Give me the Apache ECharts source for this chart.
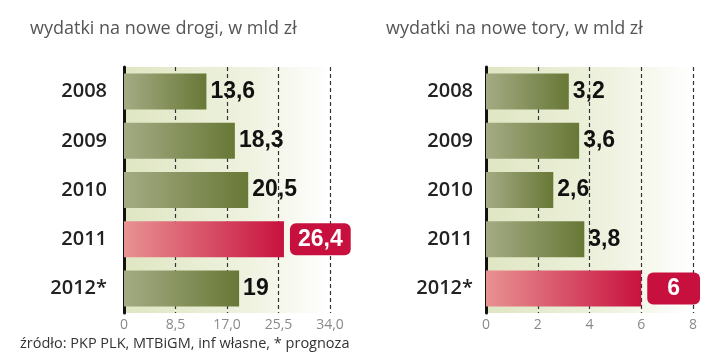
<!DOCTYPE html>
<html>
<head>
<meta charset="utf-8">
<script src="https://cdn.jsdelivr.net/npm/echarts@6/dist/echarts.min.js"></script>
<style>
html,body{margin:0;padding:0;background:#fff;}
#c{width:720px;height:357px;}
</style>
</head>
<body>
<div id="c"></div>
<script>
// ---- data ----
var years = ['2008', '2009', '2010', '2011', '2012*'];
var roadValues = [13.6, 18.3, 20.5, 26.4, 19];
var trackValues = [3.2, 3.6, 2.6, 3.8, 6];
var roadHighlight = '2011';
var trackHighlight = '2012*';
var roadTicks = ['0', '8,5', '17,0', '25,5', '34,0'];
var trackTicks = ['0', '2', '4', '6', '8'];
var roadTitle = 'wydatki na nowe drogi, w mld zł';
var trackTitle = 'wydatki na nowe tory, w mld zł';
var sourceText = 'źródło: PKP PLK, MTBiGM, inf własne, * prognoza';

// ---- styles ----
var greenGrad = {type:'linear', x:0, y:0, x2:1, y2:0, colorStops:[
  {offset:0, color:'#a4ab84'}, {offset:1, color:'#687836'}]};
var redGrad = {type:'linear', x:0, y:0, x2:1, y2:0, colorStops:[
  {offset:0, color:'#e89292'}, {offset:1, color:'#c8123f'}]};
var bgGrad = {type:'linear', x:0, y:0, x2:1, y2:0, colorStops:[
  {offset:0, color:'#dfe6c2'}, {offset:0.6, color:'#eef2df'}, {offset:1, color:'#ffffff'}]};
var valueFont = "'Liberation Sans', Arial, sans-serif";
var textFont = "'Open Sans', sans-serif";

function fmt(v){ return String(v).replace('.', ','); }

function buildData(values, highlight, padH){
  return values.map(function(v, i){
    var hl = years[i] === highlight;
    return {
      value: v,
      itemStyle: {color: hl ? redGrad : greenGrad},
      label: hl ? {
        color:'#fff', backgroundColor:'#c8103f', borderRadius:6,
        padding:[5, padH, 4, padH], distance:6
      } : {}
    };
  });
}

function xAxisFor(gi, max, interval, ticks){
  return {
    gridIndex: gi, type:'value', min:0, max:max, interval:interval,
    axisLine:{show:false}, axisTick:{show:false},
    axisLabel:{
      color:'#8a8a8a', fontSize:14, fontFamily:textFont, margin:5,
      formatter:function(v){ return ticks[Math.round(v/interval)] || ''; }
    },
    splitLine:{show:true, lineStyle:{color:'#333', width:1.2, type:[4,3]}}
  };
}
function yAxisFor(gi, margin){
  return {
    gridIndex: gi, type:'category', data: years, inverse:true,
    axisLine:{show:true, lineStyle:{color:'#111', width:3}},
    axisTick:{show:false},
    axisLabel:{color:'#222', fontSize:20, fontWeight:600, fontFamily:textFont, margin:margin}
  };
}
function seriesFor(gi, values, highlight, padH){
  return {
    type:'bar', xAxisIndex:gi, yAxisIndex:gi, barWidth:36,
    data: buildData(values, highlight, padH),
    label:{show:true, position:'right', distance:4, color:'#111',
      fontSize:23, fontWeight:'bold', fontFamily:valueFont,
      formatter:function(p){ return fmt(p.value); }},
    silent:true, animation:false
  };
}

var chart = echarts.init(document.getElementById('c'), null, {renderer:'canvas'});
chart.setOption({
  animation:false,
  backgroundColor:'#fff',
  title:[
    {text:roadTitle, left:25, top:15, textStyle:{color:'#555', fontSize:18, fontWeight:'normal', fontFamily:textFont}},
    {text:trackTitle, left:381, top:15, textStyle:{color:'#555', fontSize:18, fontWeight:'normal', fontFamily:textFont}},
    {text:sourceText, left:15, top:331, textStyle:{color:'#333', fontSize:14.5, fontWeight:'normal', fontFamily:textFont}}
  ],
  grid:[
    {left:124, top:67, width:206, height:246, show:true, borderWidth:0, backgroundColor:bgGrad},
    {left:486, top:67, width:207, height:246, show:true, borderWidth:0, backgroundColor:bgGrad}
  ],
  xAxis:[ xAxisFor(0, 34, 8.5, roadTicks), xAxisFor(1, 8, 2, trackTicks) ],
  yAxis:[ yAxisFor(0, 17), yAxisFor(1, 13) ],
  series:[ seriesFor(0, roadValues, roadHighlight, 8), seriesFor(1, trackValues, trackHighlight, 20) ]
});
</script>
</body>
</html>
